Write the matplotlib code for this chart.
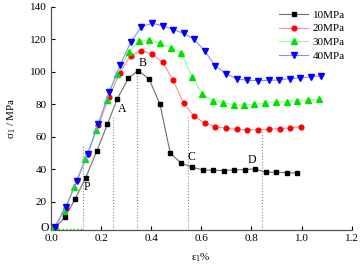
import numpy as np
import matplotlib
matplotlib.use("Agg")
import matplotlib.pyplot as plt

plt.rcParams['font.family'] = ['Liberation Serif', 'DejaVu Serif']
plt.rcParams['mathtext.default'] = 'regular'
plt.rcParams['font.size'] = 8

# data (strain %, stress MPa)
x_10 = [0.016, 0.056, 0.096, 0.139, 0.183, 0.225, 0.265, 0.309, 0.349, 0.392, 0.435,
        0.476, 0.520, 0.563, 0.605, 0.647, 0.689, 0.732, 0.773, 0.816, 0.856, 0.899,
        0.940, 0.983]
y_10 = [4.0, 10.4, 21.5, 34.8, 51.2, 67.6, 83.4, 96.1, 100.7, 95.3, 79.9,
        49.8, 43.6, 41.2, 39.5, 39.3, 39.1, 39.5, 39.7, 40.1, 38.1, 38.1,
        37.8, 37.5]

x_20 = [0.016, 0.060, 0.103, 0.146, 0.189, 0.232, 0.275, 0.318, 0.360, 0.402, 0.445,
        0.487, 0.529, 0.571, 0.613, 0.656, 0.700, 0.742, 0.783, 0.825, 0.869, 0.912,
        0.954, 0.996]
y_20 = [4.2, 16.2, 33.5, 49.5, 67.0, 84.3, 99.4, 109.7, 112.9, 110.9, 105.8,
        94.9, 80.7, 72.5, 68.4, 66.2, 65.0, 64.5, 64.1, 64.2, 64.5, 64.9,
        65.4, 66.0]

x_30 = [0.013, 0.050, 0.093, 0.136, 0.179, 0.222, 0.265, 0.310, 0.352, 0.392, 0.434,
        0.479, 0.520, 0.563, 0.603, 0.645, 0.687, 0.729, 0.770, 0.812, 0.855, 0.898,
        0.940, 0.983, 1.025, 1.068]
y_30 = [3.6, 14.3, 28.9, 46.1, 64.0, 82.8, 98.6, 112.0, 118.9, 119.5, 117.5,
        114.8, 111.3, 97.0, 86.3, 82.2, 80.9, 79.6, 79.5, 80.0, 80.5, 81.2,
        81.5, 82.2, 82.6, 83.0]

x_40 = [0.016, 0.060, 0.103, 0.147, 0.189, 0.232, 0.276, 0.318, 0.360, 0.403, 0.445,
        0.487, 0.529, 0.572, 0.613, 0.656, 0.700, 0.743, 0.783, 0.825, 0.868, 0.909,
        0.952, 0.993, 1.036, 1.079]
y_40 = [4.6, 16.6, 32.7, 49.4, 68.0, 87.3, 104.2, 118.1, 127.5, 129.8, 128.3,
        125.9, 123.6, 119.8, 112.8, 103.5, 98.5, 95.5, 94.7, 94.5, 94.6, 94.9,
        95.7, 96.1, 96.7, 97.6]

# characteristic points (dotted guides) and their labels
guide_x = [0.127, 0.247, 0.345, 0.545, 0.843]
guide_top = [54, 72, 100.5, 72, 63.5]
point_names = ['P', 'A', 'B', 'C', 'D']
name_x = [0.145, 0.284, 0.367, 0.559, 0.803]
name_y = [28.9, 76.9, 105.2, 47.3, 45.7]

series = [
    ('10MPa', x_10, y_10, '#6e6e6e', 'black', 's', 3.0),
    ('20MPa', x_20, y_20, '#ff8c8c', 'red', 'o', 3.4),
    ('30MPa', x_30, y_30, '#8cff8c', '#00e000', '^', 3.9),
    ('40MPa', x_40, y_40, '#8c8cff', 'blue', 'v', 3.9),
]

fig = plt.figure(figsize=(3.63, 2.68), dpi=100)
ax = fig.add_axes([0.1405, 0.1418, 0.8284, 0.8333])

ymin = 2.5
for i, gx in enumerate(guide_x):
    ax.plot([gx, gx], [ymin, guide_top[i]], color='#888888', ls=':', lw=0.8, zorder=1)
ax.plot([0, guide_x[0]], [ymin + 0.4, ymin + 0.4], color='#00e000', ls=':', lw=1.0, zorder=1)

for label, xs, ys, lc, mc, mk, ms in series:
    ax.plot(xs, ys, color=lc, lw=0.8, marker=mk, ms=ms, mfc=mc, mec=mc,
            label=label, zorder=3)

for i, nm in enumerate(point_names):
    ax.text(name_x[i], name_y[i], nm, ha='center', va='center', fontsize=8.5)
ax.text(-0.024, 3.6, 'O', ha='center', va='center', fontsize=8.5, clip_on=False)

ax.set_xlim(0, 1.2)
ax.set_ylim(ymin, 140)
ax.set_xticks(np.arange(0, 1.21, 0.2))
ax.set_xticklabels(['0.0', '0.2', '0.4', '0.6', '0.8', '1.0', '1.2'])
ax.set_yticks([20, 40, 60, 80, 100, 120, 140])
ax.tick_params(direction='in', length=3, width=0.8, pad=3, labelsize=8)
for s in ['top', 'right']:
    ax.spines[s].set_visible(False)
for s in ['left', 'bottom']:
    ax.spines[s].set_color('#555555')
    ax.spines[s].set_linewidth(0.9)

ax.set_xlabel('ε$_1$%', fontsize=8, labelpad=6)
ax.set_ylabel('σ$_1$ / MPa', fontsize=8, labelpad=9)

ax.legend(loc='upper right', bbox_to_anchor=(1.01, 1.03), frameon=False,
          fontsize=8, handlelength=2.6, handletextpad=0.4, labelspacing=0.35)

fig.savefig('out.png', dpi=100)
